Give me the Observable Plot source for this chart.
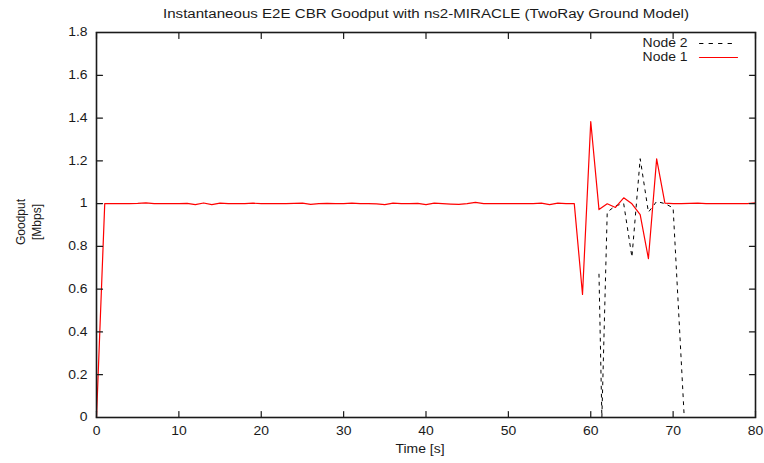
<!DOCTYPE html>
<html><head><meta charset="utf-8">
<script src="https://cdn.jsdelivr.net/npm/d3@7"></script>
<script src="https://cdn.jsdelivr.net/npm/@observablehq/plot@0.6"></script>
<style>body{margin:0;background:#fff;} svg{display:block}</style>
</head><body><div id="chart"></div>
<script>
const title = "Instantaneous E2E CBR Goodput with ns2-MIRACLE (TwoRay Ground Model)";
const xLabel = "Time [s]";
const yLabel = "Goodput\n[Mbps]";
const seriesNames = ["Node 2", "Node 1"];
const seriesColors = ["#000000", "#ff0000"];
const xTicks = [0, 10, 20, 30, 40, 50, 60, 70, 80];
const yTicks = [0, 0.2, 0.4, 0.6, 0.8, 1.0, 1.2, 1.4, 1.6, 1.8];
const yTickLabels = ["0", "0.2", "0.4", "0.6", "0.8", "1", "1.2", "1.4", "1.6", "1.8"];

const node1Time = d3.range(0, 81);
const node1Goodput = [
  0, 1.0, 1.0, 1.0, 1.0, 1.001, 1.003, 1.0, 1.0, 1.0,
  1.0, 1.001, 0.995, 1.003, 0.995, 1.002, 1.0, 1.0, 1.0, 1.002,
  1.0, 1.0, 1.0, 1.0, 1.001, 1.002, 0.996, 1.0, 1.001, 1.0,
  1.0, 1.002, 1.0, 1.0, 0.999, 0.995, 1.002, 1.0, 1.0, 1.001,
  0.995, 1.002, 1.0, 0.998, 0.996, 1.0, 1.006, 1.0, 1.0, 1.0,
  1.0, 1.0, 1.0, 1.0, 1.002, 0.995, 1.002, 1.0, 1.0, 0.575,
  1.384, 0.972, 0.999, 0.982, 1.027, 0.999, 0.949, 0.743, 1.209, 1.002,
  1.0, 1.0, 1.001, 1.002, 1.0, 1.0, 1.0, 1.0, 1.0, 1.0,
  1.003
];
const node2Time = [61.0, 61.35, 62.0, 63.0, 64.0, 65.0, 66.0, 67.0, 68.0, 69.0, 70.0, 71.35];
const node2Goodput = [0.67, 0, 0.96, 0.99, 1.0, 0.75, 1.21, 0.96, 1.01, 1.0, 0.98, 0];

const node1 = node1Time.map((t, i) => ({t, v: node1Goodput[i]}));
const node2 = node2Time.map((t, i) => ({t, v: node2Goodput[i]}));

const ink = "#1a1a1a";
const lineShape = {draw(context, l) { context.moveTo(0, 0); context.lineTo(0, -l); }};
const tickLen = 6;

const legendMarks = seriesNames.flatMap((name, i) => [
  Plot.text([name], {frameAnchor: "top-right", textAnchor: "end", lineAnchor: "middle", dx: -68, dy: 11 + 14 * i, fill: ink}),
  Plot.vector([name], {frameAnchor: "top-right", dx: -56, dy: 11 + 14 * i, length: i === 0 ? 34 : 38, rotate: 90,
    anchor: "start", shape: lineShape, stroke: seriesColors[i], strokeWidth: i === 0 ? 1 : 1.2,
    strokeDasharray: i === 0 ? "3.5,6" : "none"})
]);

const chart = Plot.plot({
  width: 764, height: 463,
  marginLeft: 96, marginRight: 9, marginTop: 32, marginBottom: 46,
  style: {fontFamily: "'Liberation Sans', Arial, sans-serif", fontSize: "12px", color: ink, background: "#fff"},
  x: {domain: [xTicks[0], xTicks[xTicks.length - 1]]},
  y: {domain: [yTicks[0], yTicks[yTicks.length - 1]]},
  marks: [
    Plot.line(node2, {x: "t", y: "v", stroke: seriesColors[0], strokeWidth: 1, strokeDasharray: "3,5"}),
    Plot.line(node1, {x: "t", y: "v", stroke: seriesColors[1], strokeWidth: 1.2}),
    Plot.axisX({ticks: xTicks, tickSize: 0, tickPadding: 9, label: null, fill: ink}),
    Plot.axisY({ticks: yTicks, tickSize: 0, tickPadding: 9, label: null, fill: ink, tickFormat: (d, i) => yTickLabels[i]}),
    Plot.vector(xTicks, {x: d => d, y: yTicks[0], length: tickLen, rotate: 0, anchor: "start", shape: lineShape, stroke: ink, strokeWidth: 1.2}),
    Plot.vector(xTicks, {x: d => d, y: yTicks[yTicks.length - 1], length: tickLen, rotate: 180, anchor: "start", shape: lineShape, stroke: ink, strokeWidth: 1.2}),
    Plot.vector(yTicks, {x: xTicks[0], y: d => d, length: tickLen, rotate: 90, anchor: "start", shape: lineShape, stroke: ink, strokeWidth: 1.2}),
    Plot.vector(yTicks, {x: xTicks[xTicks.length - 1], y: d => d, length: tickLen, rotate: -90, anchor: "start", shape: lineShape, stroke: ink, strokeWidth: 1.2}),
    Plot.frame({stroke: ink, strokeWidth: 1.6}),
    Plot.text([title], {frameAnchor: "top", lineAnchor: "middle", dy: -19, fill: ink, fontSize: 12.5}),
    Plot.text([xLabel], {frameAnchor: "bottom", lineAnchor: "middle", dy: 32, dx: -6, fill: ink}),
    Plot.text([yLabel], {frameAnchor: "left", textAnchor: "middle", dx: -69, dy: -3, rotate: -90, lineHeight: 1.33, fill: ink}),
    ...legendMarks
  ]
});
document.getElementById("chart").appendChild(chart);

// horizontally stretch horizontal text like the reference rendering
const stretch = 1.16;
chart.querySelectorAll("text").forEach(el => {
  const tr = el.getAttribute("transform") || "";
  if (tr.includes("rotate")) return;
  if (el.querySelector("tspan")) return;
  const w = el.getComputedTextLength();
  if (!w) return;
  const target = el.textContent === title ? 526 : w * stretch;
  el.setAttribute("textLength", target);
  el.setAttribute("lengthAdjust", "spacingAndGlyphs");
});
</script>
</body></html>
